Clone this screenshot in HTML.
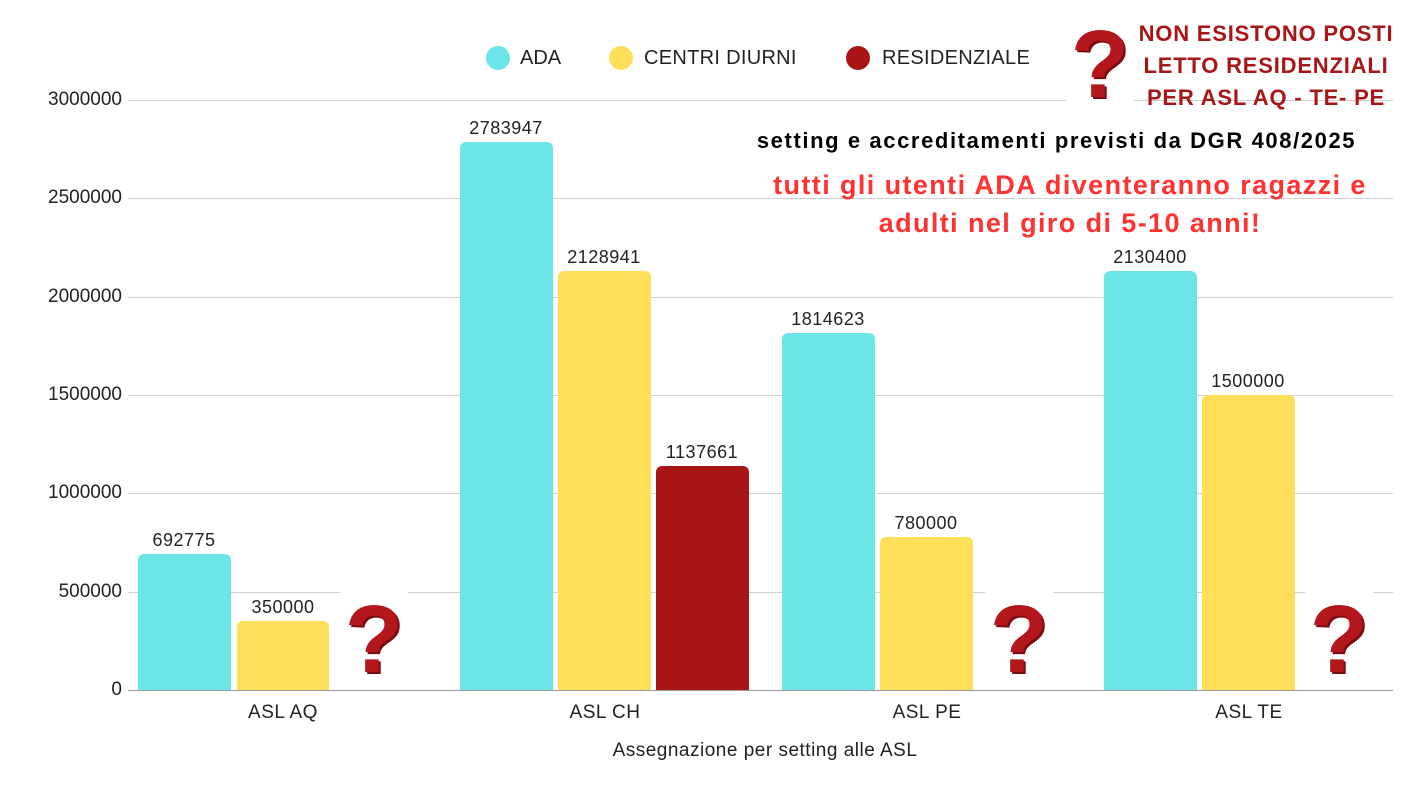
<!DOCTYPE html>
<html><head><meta charset="utf-8"><style>
body{margin:0;width:1418px;height:804px;background:#fff;position:relative;overflow:hidden;font-family:"Liberation Sans","DejaVu Sans",sans-serif;}
.g{position:absolute;left:128px;width:1265px;height:1px;background:#d0d0d0}
.yl{position:absolute;left:0;width:122px;text-align:right;font-size:19px;color:#222}
.b{position:absolute;border-radius:6px 6px 0 0}
.v{position:absolute;width:100px;text-align:center;font-size:18px;color:#222;letter-spacing:0.5px}
.c{position:absolute;width:200px;text-align:center;font-size:19px;color:#222;letter-spacing:0.5px}
.q{position:absolute;background:#fff;width:68px;height:100px;font-family:"Liberation Sans",sans-serif;font-weight:bold;color:#b3161b;font-size:96px;line-height:100px;text-align:center;text-shadow:2px 2px 0 #7a0c10}
</style></head><body>
<div class="g" style="top:100px"></div>
<div class="g" style="top:198px"></div>
<div class="g" style="top:297px"></div>
<div class="g" style="top:395px"></div>
<div class="g" style="top:493px"></div>
<div class="g" style="top:592px"></div>
<div class="g" style="top:690px;background:#999"></div>
<div class="yl" style="top:89px">3000000</div>
<div class="yl" style="top:187px">2500000</div>
<div class="yl" style="top:286px">2000000</div>
<div class="yl" style="top:384px">1500000</div>
<div class="yl" style="top:482px">1000000</div>
<div class="yl" style="top:581px">500000</div>
<div class="yl" style="top:679px">0</div>

<div class="b" style="left:138px;width:93px;top:554px;height:136px;background:#6ce5e8"></div>
<div class="b" style="left:237px;width:92px;top:621px;height:69px;background:#ffde59"></div>
<div class="b" style="left:460px;width:93px;top:142px;height:548px;background:#6ce5e8"></div>
<div class="b" style="left:558px;width:93px;top:271px;height:419px;background:#ffde59"></div>
<div class="b" style="left:656px;width:93px;top:466px;height:224px;background:#a91618"></div>
<div class="b" style="left:782px;width:93px;top:333px;height:357px;background:#6ce5e8"></div>
<div class="b" style="left:880px;width:93px;top:537px;height:153px;background:#ffde59"></div>
<div class="b" style="left:1104px;width:93px;top:271px;height:419px;background:#6ce5e8"></div>
<div class="b" style="left:1202px;width:93px;top:395px;height:295px;background:#ffde59"></div>

<div class="v" style="left:134px;top:530px">692775</div>
<div class="v" style="left:233px;top:597px">350000</div>
<div class="v" style="left:456px;top:118px">2783947</div>
<div class="v" style="left:554px;top:247px">2128941</div>
<div class="v" style="left:652px;top:442px">1137661</div>
<div class="v" style="left:778px;top:309px">1814623</div>
<div class="v" style="left:876px;top:513px">780000</div>
<div class="v" style="left:1100px;top:247px">2130400</div>
<div class="v" style="left:1198px;top:371px">1500000</div>

<div class="c" style="left:183px;top:702px">ASL AQ</div>
<div class="c" style="left:505px;top:702px">ASL CH</div>
<div class="c" style="left:827px;top:702px">ASL PE</div>
<div class="c" style="left:1149px;top:702px">ASL TE</div>
<div class="c" style="left:465px;top:740px;width:600px">Assegnazione per setting alle ASL</div>

<div class="q" style="left:340px;top:590px">?</div>
<div class="q" style="left:985px;top:590px">?</div>
<div class="q" style="left:1305px;top:590px">?</div>
<div class="q" style="left:1066px;top:15px;height:90px">?</div>

<div style="position:absolute;left:486px;top:46px;width:24px;height:24px;border-radius:50%;background:#6ce5e8"></div>
<div style="position:absolute;left:520px;top:47px;font-size:20px;color:#222">ADA</div>
<div style="position:absolute;left:609px;top:46px;width:24px;height:24px;border-radius:50%;background:#ffde59"></div>
<div style="position:absolute;left:644px;top:47px;font-size:20px;color:#222;letter-spacing:0.3px">CENTRI DIURNI</div>
<div style="position:absolute;left:846px;top:46px;width:24px;height:24px;border-radius:50%;background:#a91618"></div>
<div style="position:absolute;left:882px;top:47px;font-size:20px;color:#222;letter-spacing:0.3px">RESIDENZIALE</div>

<div style="position:absolute;left:1126px;top:18px;width:280px;text-align:center;font-weight:bold;color:#a91618;font-size:22px;letter-spacing:0.8px;line-height:32px">NON ESISTONO POSTI<br>LETTO RESIDENZIALI<br>PER ASL AQ - TE- PE</div>
<div style="position:absolute;left:700px;top:128px;width:713px;text-align:center;font-weight:bold;color:#000;font-size:22px;letter-spacing:1.6px">setting e accreditamenti previsti da DGR 408/2025</div>
<div style="position:absolute;left:690px;top:166px;width:760px;text-align:center;font-weight:bold;color:#ff3131;font-size:27px;letter-spacing:1.4px;line-height:38px">tutti gli utenti ADA diventeranno ragazzi e<br>adulti nel giro di 5-10 anni!</div>
</body></html>
